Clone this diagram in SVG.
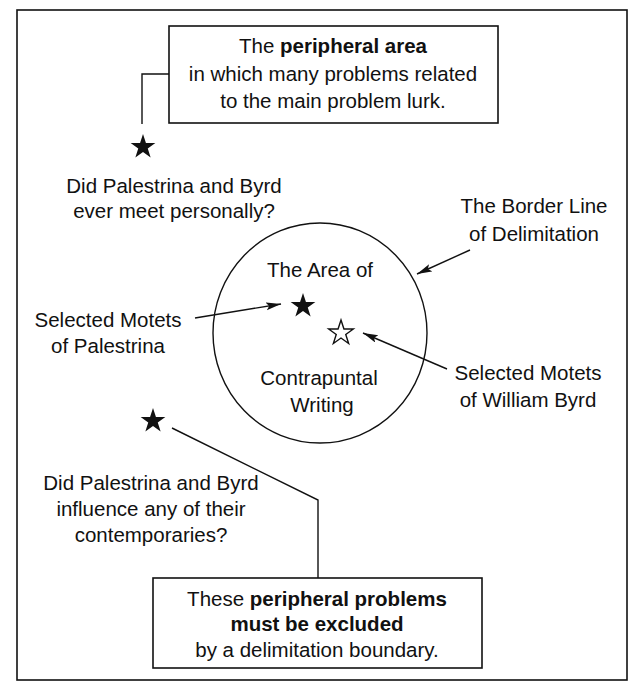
<svg xmlns="http://www.w3.org/2000/svg" width="632" height="684" viewBox="0 0 632 684">
<style>
text{font-family:"Liberation Sans",Arial,sans-serif;font-size:20.5px;fill:#111;text-anchor:middle}
.b{font-weight:bold}
.box{fill:#fff;stroke:#111;stroke-width:1.6}
.ln{fill:none;stroke:#111;stroke-width:1.4}
.star{fill:#111}
.hstar{fill:#fff;stroke:#111;stroke-width:1.4}
</style>
<defs>
<path id="st" d="M0,-13 L2.94,-4.05 L12.36,-4.02 L4.76,1.55 L7.64,10.52 L0,5 L-7.64,10.52 L-4.76,1.55 L-12.36,-4.02 L-2.94,-4.05 Z"/>
<marker id="ah" markerUnits="userSpaceOnUse" markerWidth="16" markerHeight="10" refX="15" refY="4" orient="auto">
<path d="M0,0 L15,4 L0,8 L3,4 Z" fill="#111"/>
</marker>
</defs>
<rect x="17" y="10" width="610" height="670" fill="#fff" stroke="#111" stroke-width="1.6"/>
<g id="connectors">
<polyline class="ln" points="169,74 142,74 142,124"/>
<polyline class="ln" points="172,428 318,500 318,578"/>
<line class="ln" x1="470" y1="250" x2="417" y2="274" marker-end="url(#ah)"/>
<line class="ln" x1="195" y1="318" x2="281" y2="304" marker-end="url(#ah)"/>
<line class="ln" x1="447" y1="369" x2="363" y2="333" marker-end="url(#ah)"/>
</g>
<g id="top-box">
<rect class="box" x="169" y="26" width="329" height="97"/>
<text x="333" y="53">The <tspan class="b">peripheral area</tspan></text>
<text x="333" y="81">in which many problems related</text>
<text x="333" y="108">to the main problem lurk.</text>
</g>
<g id="question-meet">
<use href="#st" class="star" x="143" y="147"/>
<text x="174" y="193">Did Palestrina and Byrd</text>
<text x="174" y="218">ever meet personally?</text>
</g>
<g id="border-line">
<text x="534" y="213">The Border Line</text>
<text x="534" y="241">of Delimitation</text>
</g>
<g id="area">
<ellipse cx="320" cy="333" rx="107" ry="110" class="ln"/>
<text x="320" y="277">The Area of</text>
<text x="319" y="385">Contrapuntal</text>
<text x="322" y="412">Writing</text>
</g>
<g id="palestrina">
<use href="#st" class="star" x="303" y="306"/>
<text x="108" y="327">Selected Motets</text>
<text x="108" y="353">of Palestrina</text>
</g>
<g id="byrd">
<use href="#st" class="hstar" x="341" y="333"/>
<text x="528" y="380">Selected Motets</text>
<text x="528" y="407">of William Byrd</text>
</g>
<g id="question-influence">
<use href="#st" class="star" x="153" y="421"/>
<text x="151" y="490">Did Palestrina and Byrd</text>
<text x="151" y="516">influence any of their</text>
<text x="151" y="542">contemporaries?</text>
</g>
<g id="bottom-box">
<rect class="box" x="153" y="578" width="329" height="90"/>
<text x="317" y="606">These <tspan class="b">peripheral problems</tspan></text>
<text x="317" y="631" class="b">must be excluded</text>
<text x="317" y="657">by a delimitation boundary.</text>
</g>
</svg>
